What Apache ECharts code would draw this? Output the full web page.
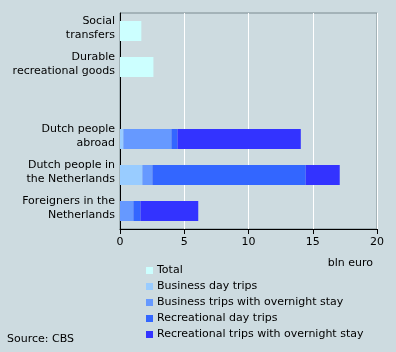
<!DOCTYPE html>
<html>
<head>
<meta charset="utf-8">
<script src="https://cdn.jsdelivr.net/npm/echarts@6/dist/echarts.min.js"></script>
<style>
  html, body { margin: 0; padding: 0; background: #cddbe0; }
  #container { width: 396px; height: 352px; }
</style>
</head>
<body>
<div id="container"></div>
<script>
  var dom = document.getElementById("container");
  var myChart = echarts.init(dom);

  // categories, top to bottom (one empty slot between the two groups)
  var categories = ['Social\ntransfers', 'Durable\nrecreational goods', '',
      'Dutch people\nabroad', 'Dutch people in\nthe Netherlands', 'Foreigners in the\nNetherlands'];

  var total = [1.66, 2.6, '-', '-', '-', '-'];
  var businessDay = ['-', '-', '-', 0.26, 1.74, 0];
  var businessOvernight = ['-', '-', '-', 3.74, 0.78, 1.04];
  var recreationalDay = ['-', '-', '-', 0.47, 11.93, 0.55];
  var recreationalOvernight = ['-', '-', '-', 9.6, 2.65, 4.5];

  var xTicks = [0, 5, 10, 15, 20];

  var font = 'DejaVu Sans';

  function stackSeries(name, data, color) {
      return {
          name: name,
          type: 'bar',
          stack: 'trips',
          barWidth: 20,
          data: data,
          itemStyle: { color: color },
          silent: true
      };
  }

  var option = {
      backgroundColor: '#cddbe0',
      animation: false,
      textStyle: { fontFamily: font },
      title: [{
              text: 'bln euro',
              right: 18,
              top: 253,
              textStyle: { fontFamily: font, fontSize: 11, fontWeight: 'normal', color: '#000' }
          },
          {
              text: 'Source: CBS',
              left: 2,
              top: 329,
              textStyle: { fontFamily: font, fontSize: 11, fontWeight: 'normal', color: '#000' }
          }
      ],
      legend: {
          orient: 'vertical',
          left: 141,
          top: 259,
          itemWidth: 7,
          itemHeight: 7,
          itemGap: 3,
          icon: 'rect',
          textStyle: { fontFamily: font, fontSize: 11, color: '#000', lineHeight: 13, padding: [0, 0, 0, -1] },
          data: ['Total', 'Business day trips', 'Business trips with overnight stay',
              'Recreational day trips', 'Recreational trips with overnight stay']
      },
      grid: {
          left: 120,
          right: 19,
          top: 13,
          bottom: 123,
          show: true,
          borderColor: '#7a8a90',
          borderWidth: 1,
          backgroundColor: 'transparent'
      },
      xAxis: {
          type: 'value',
          min: xTicks[0],
          max: xTicks[xTicks.length - 1],
          interval: 5,
          axisLine: { show: true, lineStyle: { color: '#000', width: 1 } },
          axisTick: { show: true, length: 5, lineStyle: { color: '#000' } },
          axisLabel: { color: '#000', fontSize: 11, fontFamily: font, margin: 8 },
          splitLine: { show: true, lineStyle: { color: '#fff', width: 1 } }
      },
      yAxis: {
          type: 'category',
          inverse: true,
          data: categories,
          axisLine: { show: true, lineStyle: { color: '#000', width: 1 } },
          axisTick: { show: false },
          axisLabel: {
              color: '#000', fontSize: 11, fontFamily: font, margin: 5, align: 'right',
              // extra short blank line underneath lifts the text a few pixels, as in the original
              formatter: function (v) {
                  if (!v) return '';
                  return v.split('\n').map(function (l) { return '{t|' + l + '}'; }).join('\n') + '\n{s|}';
              },
              rich: {
                  t: { fontSize: 11, fontFamily: font, color: '#000', lineHeight: 14, align: 'right' },
                  s: { fontSize: 1, lineHeight: 6 }
              }
          }
      },
      series: [
          stackSeries('Total', total, '#ccffff'),
          stackSeries('Business day trips', businessDay, '#99ccff'),
          stackSeries('Business trips with overnight stay', businessOvernight, '#6699ff'),
          stackSeries('Recreational day trips', recreationalDay, '#3366ff'),
          stackSeries('Recreational trips with overnight stay', recreationalOvernight, '#3333ff')
      ]
  };

  myChart.setOption(option, true);
</script>
</body>
</html>
